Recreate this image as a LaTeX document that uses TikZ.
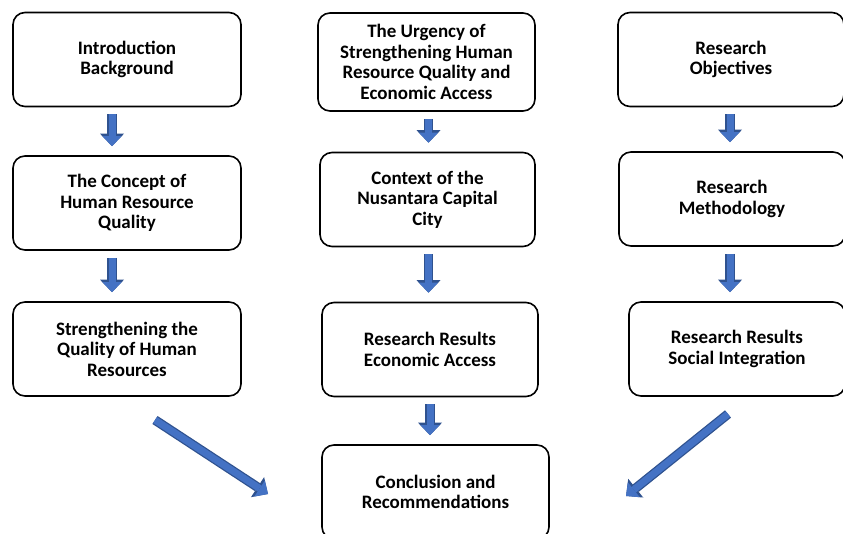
\documentclass[tikz,border=0pt]{standalone}
\usepackage{fontspec}
\setmainfont{Carlito}
\usetikzlibrary{arrows.meta,positioning}
\definecolor{flowblue}{HTML}{4472C4}
\definecolor{flowedge}{HTML}{2F528F}

\begin{document}
\begin{tikzpicture}[x=1pt, y=-1pt,
  box/.style={draw, line width=1.6pt, rounded corners=12pt, fill=white, align=center, font=\bfseries\fontsize{19}{20.5}\selectfont, minimum width=#1, minimum height=94pt, inner sep=2pt},
  blockarrow/.style={draw=flowblue, line width=7pt, -{Triangle[width=19pt,length=10pt,line width=0pt]},
    preaction={draw=flowedge, line width=9.5pt, -{Triangle[width=24pt,length=12.5pt,line width=0pt]}}},
  downarrow/.style={blockarrow, shorten <=7pt, shorten >=9pt}
]
\useasboundingbox (0,0) rectangle (843,534);

% Left column
\node[box=228pt] (intro) at (127,59.5) {Introduction\\Background};
\node[box=228pt] (concept) at (127,203) {The Concept of\\Human Resource\\Quality};
\node[box=228pt] (strength) at (127,349) {Strengthening the\\Quality of Human\\Resources};

% Middle column
\node[box=217pt, minimum height=98pt] (urgency) at (426.5,62) {The Urgency of\\Strengthening Human\\Resource Quality and\\Economic Access};
\node[box=215pt] (context) at (427.5,199.5) {Context of the\\Nusantara Capital\\City};
\node[box=216pt] (econ) at (430,349.5) {Research Results\\Economic Access};
\node[box=227pt] (concl) at (435.5,492) {Conclusion and\\Recommendations};

% Right column
\node[box=226pt] (objectives) at (731,59.5) {Research\\Objectives};
\node[box=226pt] (method) at (732,199) {Research\\Methodology};
\node[box=216pt] (social) at (737,349) {Research Results\\Social Integration};

% Arrows down each column
\draw[downarrow] ([xshift=-15pt]intro.south) -- ([xshift=-15pt]concept.north);
\draw[downarrow] ([xshift=-15pt]concept.south) -- ([xshift=-15pt]strength.north);
\draw[downarrow] ([xshift=2pt]urgency.south) -- ([xshift=1pt]context.north);
\draw[downarrow] ([xshift=1pt]context.south) -- ([xshift=-1.5pt]econ.north);
\draw[downarrow] (econ.south) -- ([xshift=-5.5pt]concl.north);
\draw[downarrow] ([xshift=-1pt]objectives.south) -- ([xshift=-2pt]method.north);
\draw[downarrow] ([xshift=-2pt]method.south) -- ([xshift=-7pt]social.north);

% Side arrows into the conclusion
\coordinate (lfrom) at (155,420);
\coordinate (lto) at (268,494);
\coordinate (rfrom) at (728,414);
\coordinate (rto) at (626,496);
\draw[blockarrow] (lfrom) -- (lto);
\draw[blockarrow] (rfrom) -- (rto);

\end{tikzpicture}
\end{document}
